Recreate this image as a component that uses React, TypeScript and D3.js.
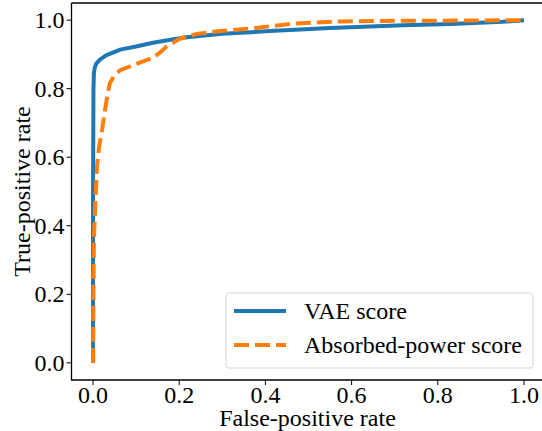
import React from 'react';
import * as d3 from 'd3';

// ROC curves
const vaeFpr = [0, 0, 0.001, 0.002, 0.004, 0.008, 0.016, 0.03, 0.063, 0.1, 0.139, 0.18, 0.218, 0.3, 0.41, 0.48, 0.55, 0.72, 0.83, 0.95, 1.0];
const vaeTpr = [0, 0.5, 0.8, 0.845, 0.862, 0.874, 0.885, 0.897, 0.914, 0.923, 0.934, 0.943, 0.95, 0.96, 0.968, 0.973, 0.977, 0.985, 0.989, 0.995, 1.0];

const absFpr = [0, 0.001, 0.002, 0.005, 0.007, 0.009, 0.014, 0.021, 0.028, 0.034, 0.039, 0.05, 0.063, 0.1, 0.139, 0.155, 0.17, 0.2, 0.24, 0.295, 0.37, 0.41, 0.464, 0.566, 0.7, 0.9, 1.0];
const absTpr = [0, 0.2, 0.36, 0.455, 0.51, 0.57, 0.63, 0.68, 0.74, 0.785, 0.816, 0.84, 0.854, 0.872, 0.89, 0.905, 0.922, 0.945, 0.96, 0.968, 0.976, 0.982, 0.99, 0.996, 0.998, 0.999, 1.0];

const ticks = [0, 0.2, 0.4, 0.6, 0.8, 1.0];
const seriesNames = ['VAE score', 'Absorbed-power score'];
const colors = ['#1f77b4', '#ff7f0e'];

const W = 542, H = 431;
const serif = {fontFamily: "'Liberation Serif', 'Times New Roman', serif"};
const fs = 24;

export default function App() {
  // axes box like matplotlib: data -0.05..1.05
  const left = 71.5, right = 545.5, top = 3, bottom = 380;
  const x = d3.scaleLinear().domain([-0.05, 1.05]).range([left, right]);
  const y = d3.scaleLinear().domain([-0.05, 1.05]).range([bottom, top]);

  const line = d3.line<[number, number]>().x(d => x(d[0])).y(d => y(d[1]));
  const vae = vaeFpr.map((f, i) => [f, vaeTpr[i]] as [number, number]);
  const abs = absFpr.map((f, i) => [f, absTpr[i]] as [number, number]);

  return (
    <svg width={W} height={H} style={{position: 'absolute', left: 0, top: 0}}>
      <rect width={W} height={H} fill="white" />
      <path d={line(vae) || ''} fill="none" stroke={colors[0]} strokeWidth={4} strokeLinejoin="round" />
      <path d={line(abs) || ''} fill="none" stroke={colors[1]} strokeWidth={4} strokeDasharray="15,6" />

      {/* spines */}
      <path d={`M${left},${top}V${bottom}H${right}M${left},${top}H${right}`} fill="none" stroke="black" strokeWidth={1.3} />

      {ticks.map(t => (
        <g key={'x' + t}>
          <line x1={x(t)} x2={x(t)} y1={bottom} y2={bottom + 5} stroke="black" strokeWidth={1} />
          <text x={x(t)} y={bottom + 23} textAnchor="middle" fontSize={fs} style={serif}>{t.toFixed(1)}</text>
        </g>
      ))}
      {ticks.map(t => (
        <g key={'y' + t}>
          <line x1={left - 5} x2={left} y1={y(t)} y2={y(t)} stroke="black" strokeWidth={1} />
          <text x={left - 7} y={y(t) + 8} textAnchor="end" fontSize={fs} style={serif}>{t.toFixed(1)}</text>
        </g>
      ))}

      <text x={(left + 545.5) / 2 - 1} y={426} textAnchor="middle" fontSize={fs} style={serif}>False-positive rate</text>
      <text transform={`translate(30,${(top + bottom) / 2}) rotate(-90)`} textAnchor="middle" fontSize={fs} style={serif}>True-positive rate</text>

      {/* legend */}
      <rect x={226} y={293} width={307} height={75} rx={3} fill="white" fillOpacity={0.8} stroke="#d6d6d6" strokeWidth={1} />
      {seriesNames.map((n, i) => (
        <g key={n}>
          <line x1={234} x2={286} y1={311 + i * 34} y2={311 + i * 34} stroke={colors[i]} strokeWidth={4}
            strokeDasharray={i === 1 ? '15,6' : undefined} />
          <text x={304} y={319 + i * 34} fontSize={fs} style={serif}>{n}</text>
        </g>
      ))}
    </svg>
  );
}
